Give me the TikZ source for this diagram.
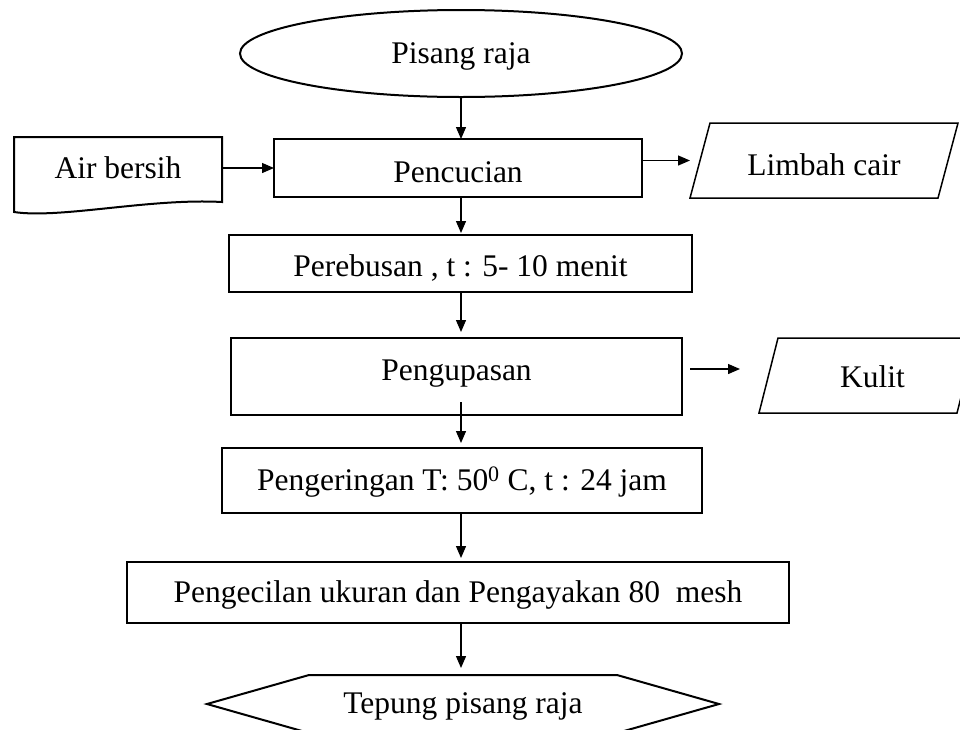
\documentclass[tikz,border=0pt]{standalone}
\usepackage{fontspec}
\setmainfont{Liberation Serif}
\usetikzlibrary{shapes.geometric,arrows.meta,calc}
\begin{document}
\begin{tikzpicture}[x=1pt,y=1pt,
  every node/.style={font=\fontsize{31.5}{36}\selectfont, inner sep=0pt, outer sep=0pt},
  box/.style={draw, line width=2pt, rectangle},
  arr/.style={line width=1.3pt, -{Triangle[length=12pt,width=10pt]}},
  thinshape/.style={draw, line width=1.5pt},
  th/.style={text height=#1, text depth=0pt}]
\useasboundingbox (0,0) rectangle (960,-729);
\fill[white] (0,0) rectangle (960,-729);
\coordinate (ax) at (461,0);

% start ellipse
\node[draw, ellipse, line width=2pt, minimum width=442pt, minimum height=87pt, th=20.7pt] (start) at (461,-53.5) {Pisang raja};

% Air bersih (document shape)
\node[minimum width=208pt, minimum height=62pt] (air) at (118,-168) {Air bersih};
\draw[line width=2pt] (14,-212) -- (14,-137) -- (222,-137) -- (222,-202)
  .. controls (150,-198) and (60,-219) .. (14,-212) -- cycle;

% Pencucian
\node[box, minimum width=368pt, minimum height=58pt, th=29.5pt] (pc) at (458,-168) {Pencucian};

% Limbah cair
\node[minimum width=268pt, minimum height=75pt, th=29.5pt] (lim) at (824,-160.5) {Limbah cair};
\draw[thinshape] (lim.south west) -- ([xshift=20pt]lim.north west) -- (lim.north east)
  -- ([xshift=-20pt]lim.south east) -- cycle;

% Perebusan
\node[box, minimum width=463pt, minimum height=57pt, th=25pt] (pr) at (460.5,-263.5) {Perebusan , t : 5- 10 menit};

% Pengupasan
\node[box, minimum width=451pt, minimum height=77pt, th=8.2pt] (pk) at (456.5,-376.5) {Pengupasan};

% Kulit
\node[minimum width=217pt, minimum height=75pt, th=23.5pt] (kul) at (867.5,-375.5) {\hspace*{10pt}Kulit};
\draw[thinshape] (kul.south west) -- ([xshift=19pt]kul.north west) -- (kul.north east)
  -- ([xshift=-19pt]kul.south east) -- cycle;
\coordinate (kin) at (740,-369);

% Pengeringan
\node[box, minimum width=480pt, minimum height=65pt, th=19.2pt] (pg) at (462,-480.5) {Pengeringan T: 50\textsuperscript{0} C, t : 24 jam};

% Pengecilan
\node[box, minimum width=662pt, minimum height=61pt, th=20.7pt] (pe) at (458,-592.5) {Pengecilan ukuran dan Pengayakan 80\ \ mesh};

% Tepung pisang raja (hexagon)
\node[minimum width=512pt, minimum height=58pt, th=18.7pt] (hex) at (463,-704) {Tepung pisang raja};
\draw[line width=2pt] (hex.west) -- ([xshift=102pt]hex.north west) -- ([xshift=-102pt]hex.north east)
  -- (hex.east) -- ([xshift=-102pt]hex.south east) -- ([xshift=102pt]hex.south west) -- cycle;

% connectors
\draw[arr] (start.south -| ax) -- (pc.north -| ax);
\draw[arr] (air.east) -- (pc.west);
\draw[arr] (pc.east |- lim.west) -- (lim.west);
\draw[arr, shorten >=2pt] (pc.south -| ax) -- (pr.north -| ax);
\draw[arr, shorten >=6pt] (pr.south -| ax) -- (pk.north -| ax);
\draw[arr] ([xshift=8pt]pk.east |- kin) -- (kin);
\draw[arr, shorten <=-13pt, shorten >=5pt] (pk.south -| ax) -- (pg.north -| ax);
\draw[arr, shorten >=4pt] (pg.south -| ax) -- (pe.north -| ax);
\draw[arr, shorten >=7pt] (pe.south -| ax) -- (hex.north -| ax);
\end{tikzpicture}
\end{document}
